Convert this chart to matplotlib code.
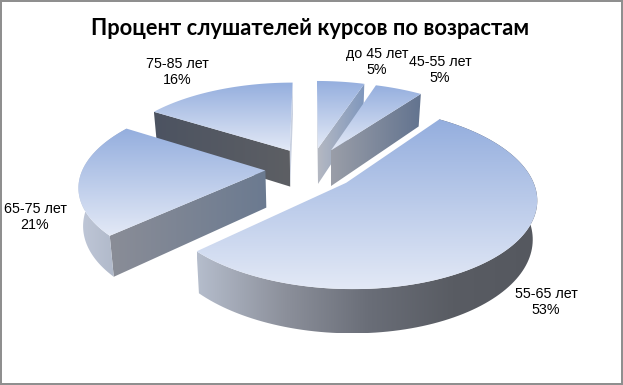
import numpy as np
import matplotlib
matplotlib.use('Agg')
import matplotlib.pyplot as plt
from matplotlib.colors import to_rgb
from matplotlib.patches import Polygon, Rectangle

title = 'Процент слушателей курсов по возрастам'
categories = ['до 45 лет', '45-55 лет', '55-65 лет', '65-75 лет', '75-85 лет']
shares = [5, 5, 53, 21, 16]

# where the labels sit, in pixels
label_pos = [(377, 62), (440, 70), (546, 302), (35, 217), (177, 72)]

# pie model, fitted against the picture
X0, Y0 = 311, 168.5
KX, KY = 182.5, 84.2
PERSP = 0.16
EXPLODE = 0.25
DEPTH = 37
DEPTH_GROW = 0.06
X_SHRINK = 0.98

TOP_COLORS = ['#94aede', '#e3e9f6']

# colours of side faces, left to right in x; None means hidden
side_style = [
    # slice start cut, slice end cut, rim
    {'start': ['#c4c9d2', '#c4c9d2'], 'end': ['#b4b8c2', '#7f97bd'], 'rim': None},
    {'start': None, 'end': ['#9a9ea8', '#62738f'], 'rim': None},
    {'start': None, 'end': None, 'rim': ['#b5bdcc', '#8d919c', '#6a6e78', '#595c63', '#55585f']},
    {'start': ['#8a8d97', '#6b7a90'], 'end': None, 'rim': ['#c0c8d8', '#aab3c4']},
    {'start': ['#4c5361', '#5d5f64'], 'end': ['#c8d0e0', '#c8d0e0'], 'rim': None},
]
draw_order = [4, 0, 1, 3, 2]


def project(u, v):
    w = 1 - PERSP * v
    return X0 + KX * u / w, Y0 + KY * v / w


def drop(x, y):
    # same point on the lower plane of the pie
    return X0 + (x - X0) * X_SHRINK, y + DEPTH + DEPTH_GROW * (y - Y0)


def gradient(ax, verts, colors, vertical, z):
    verts = np.array(verts)
    x1, y1 = verts.min(axis=0)
    x2, y2 = verts.max(axis=0)
    rgb = np.array([to_rgb(c) for c in colors])
    t = np.linspace(0, 1, 256)
    stops = np.linspace(0, 1, len(colors))
    ramp = np.stack([np.interp(t, stops, rgb[:, k]) for k in range(3)], axis=1)
    img = ramp[:, None, :] if vertical else ramp[None, :, :]
    im = ax.imshow(img, extent=(x1, x2, y2, y1), aspect='auto', zorder=z, interpolation='bilinear')
    im.set_clip_path(Polygon(verts, closed=True, transform=ax.transData))


fig = plt.figure(figsize=(6.23, 3.85), dpi=100)
ax = fig.add_axes([0, 0, 1, 1])

ends = np.cumsum(shares) / np.sum(shares) * 360
starts = np.concatenate([[0], ends[:-1]])

z = 2
for i in draw_order:
    t0, t1 = np.radians(starts[i]), np.radians(ends[i])
    mid = (t0 + t1) / 2
    cu, cv = EXPLODE * np.sin(mid), -EXPLODE * np.cos(mid)
    t = np.linspace(t0, t1, 120)
    rx, ry = project(cu + np.sin(t), cv - np.cos(t))
    ax_, ay_ = project(cu, cv)
    lx, ly = drop(rx, ry)
    bx, by = drop(ax_, ay_)
    style = side_style[i]

    if style['start']:
        gradient(ax, [(ax_, ay_), (rx[0], ry[0]), (lx[0], ly[0]), (bx, by)], style['start'], False, z)
        z += 1
    if style['end']:
        gradient(ax, [(ax_, ay_), (rx[-1], ry[-1]), (lx[-1], ly[-1]), (bx, by)], style['end'], False, z)
        z += 1
    if style['rim']:
        rim = list(zip(rx, ry)) + list(zip(lx[::-1], ly[::-1]))
        gradient(ax, rim, style['rim'], False, z)
        z += 1
    top = [(ax_, ay_)] + list(zip(rx, ry))
    gradient(ax, top, TOP_COLORS, True, z)
    z += 1

ax.add_patch(Rectangle((1, 1), 621, 383, fill=False, edgecolor='#8f8f8f', linewidth=1.44, zorder=z))

ax.text(310, 28.5, title, ha='center', va='center', fontsize=15.75, fontweight='bold',
        family=['Lato', 'Noto Sans', 'DejaVu Sans'], color='black', zorder=z + 1)
for name, share, (x, y) in zip(categories, shares, label_pos):
    ax.text(x, y, f'{name}\n{share}%', ha='center', va='center', fontsize=10.3,
            family=['Liberation Sans'], linespacing=1.15, color='black', zorder=z + 1)

ax.set_xlim(0, 623)
ax.set_ylim(385, 0)
ax.axis('off')

fig.savefig('out.png', dpi=100, facecolor='white')
